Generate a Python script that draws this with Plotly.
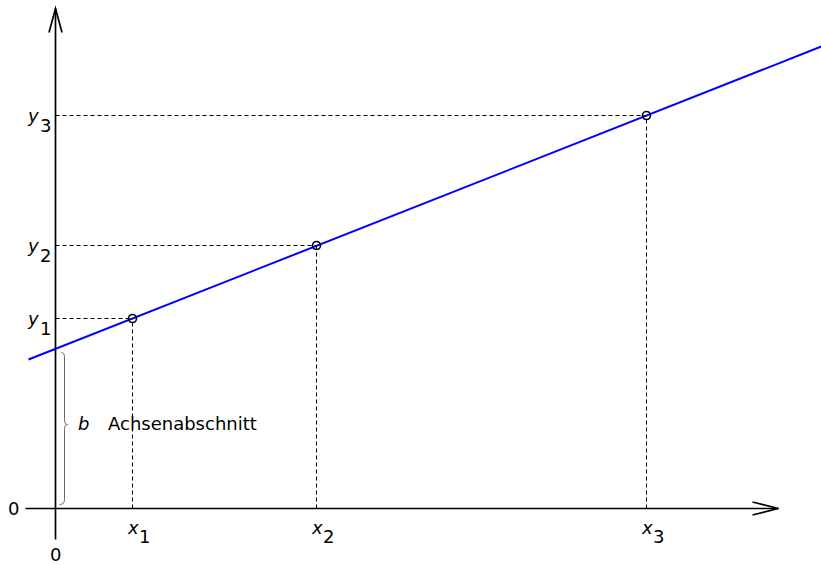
import plotly.graph_objects as go

# data (arbitrary units)
point_x = [0.77, 2.61, 5.91]
point_y = [1.90, 2.63, 3.93]
x_labels = ["x", "x", "x"]
y_labels = ["y", "y", "y"]
sub_labels = ["1", "2", "3"]
line_x = [-0.27, 7.66]
line_y = [1.49, 4.62]
intercept = 1.60
intercept_text = "Achsenabschnitt"

FONT = "DejaVu Sans"
FS = 18

fig = go.Figure()

# regression line
fig.add_trace(go.Scatter(x=line_x, y=line_y, mode="lines",
                         line=dict(color="rgb(0,0,255)", width=2),
                         hoverinfo="skip"))
# measured points
fig.add_trace(go.Scatter(x=point_x, y=point_y, mode="markers",
                         marker=dict(symbol="circle-open", size=8, color="black",
                                     line=dict(width=1.6, color="black")),
                         hoverinfo="skip"))

shapes = []
dash = "4px,3px"
for px_, py_ in zip(point_x, point_y):
    shapes.append(dict(type="line", x0=0, x1=px_, y0=py_, y1=py_, xref="x", yref="y",
                       line=dict(color="black", width=1, dash=dash), layer="below"))
    shapes.append(dict(type="line", x0=px_, x1=px_, y0=0, y1=py_, xref="x", yref="y",
                       line=dict(color="black", width=1, dash=dash), layer="below"))

# axes with open arrow heads
AX = dict(color="black", width=1.7)
shapes.append(dict(type="line", x0=-0.30, x1=7.23, y0=0, y1=0, line=AX))
shapes.append(dict(type="path", path="M 6.97,0.065 L 7.23,0 L 6.97,-0.065", line=AX))
shapes.append(dict(type="line", x0=0, x1=0, y0=-0.31, y1=5.00, line=AX))
shapes.append(dict(type="path", path="M -0.065,4.76 L 0,5.00 L 0.065,4.76", line=AX))

# brace for intercept
shapes.append(dict(type="path",
                   path=("M 0.06,1.56 Q 0.09,1.56 0.09,1.51 L 0.09,0.89 "
                         "Q 0.09,0.84 0.12,0.84 Q 0.09,0.84 0.09,0.79 "
                         "L 0.09,0.09 Q 0.09,0.04 0.04,0.04"),
                   line=dict(color="#666666", width=1)))

def txt(**kw):
    d = dict(showarrow=False, borderpad=0, yanchor="middle",
             font=dict(family=FONT, size=FS, color="black"))
    d.update(kw)
    return d

ann = []
for xv, lab, sub in zip(point_x, x_labels, sub_labels):
    ann.append(txt(x=xv, y=0, text=f"<i>{lab}</i>", xanchor="center", xshift=0.5, yshift=-19))
    ann.append(txt(x=xv, y=0, text=sub, xanchor="left", xshift=5.5, yshift=-28))
for yv, lab, sub in zip(point_y, y_labels, sub_labels):
    ann.append(txt(x=0, y=yv, text=f"<i>{lab}</i>", xanchor="center", xshift=-22.5, yshift=0))
    ann.append(txt(x=0, y=yv, text=sub, xanchor="left", xshift=-17, yshift=-10))
ann.append(txt(x=0, y=0, text="0", xanchor="center", xshift=-42, yshift=0))
ann.append(txt(x=0, y=0, text="0", xanchor="center", xshift=0, yshift=-46))
ann.append(txt(x=0, y=intercept / 2, text="<i>b</i>", xanchor="center", xshift=28, yshift=5))
ann.append(txt(x=0, y=intercept / 2, text=intercept_text, xanchor="left", xshift=51, yshift=5))

fig.update_layout(
    width=821, height=565,
    margin=dict(l=0, r=0, t=0, b=0),
    paper_bgcolor="white", plot_bgcolor="white",
    showlegend=False,
    xaxis=dict(range=[-0.555, 7.655], visible=False, fixedrange=True),
    yaxis=dict(range=[-0.565, 5.085], visible=False, fixedrange=True),
    shapes=shapes, annotations=ann,
)

fig.write_html("out.html", config={"displayModeBar": False},
               post_script="document.body.style.margin='0';document.body.style.overflow='hidden';")
